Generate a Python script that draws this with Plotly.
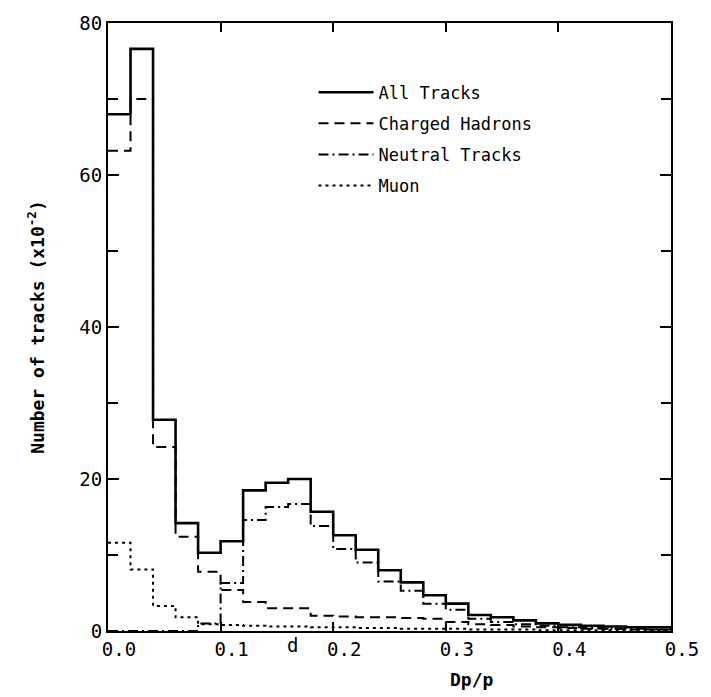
import plotly.graph_objects as go

# Bin edges of Dp/p (width 0.02)
bin_edges = [0.00, 0.02, 0.04, 0.06, 0.08, 0.10, 0.12, 0.14, 0.16, 0.18,
             0.20, 0.22, 0.24, 0.26, 0.28, 0.30, 0.32, 0.34, 0.36, 0.38,
             0.40, 0.42, 0.44, 0.46, 0.48, 0.50]

# Number of tracks (x10^-2) per bin
all_tracks = [68.0, 76.6, 27.8, 14.2, 10.3, 11.8, 18.5, 19.5, 20.0, 15.7,
              12.6, 10.7, 8.0, 6.4, 4.7, 3.6, 2.1, 1.8, 1.4, 1.0,
              0.8, 0.7, 0.6, 0.5, 0.5]
charged_hadrons = [63.2, 70.0, 24.2, 12.4, 7.8, 5.4, 3.8, 3.0, 3.0, 2.0,
                   1.9, 1.8, 1.8, 1.7, 1.6, 1.2, 0.9, 0.8, 0.6, 0.5,
                   0.4, 0.3, 0.3, 0.2, 0.2]
neutral_tracks = [0.0, 0.0, 0.0, 0.0, 1.0, 6.3, 14.6, 16.3, 16.7, 13.8,
                  10.8, 9.0, 6.5, 5.3, 3.6, 2.8, 1.6, 1.2, 0.9, 0.7,
                  0.5, 0.4, 0.3, 0.3, 0.2]
muon = [11.6, 8.1, 3.3, 1.8, 0.9, 0.8, 0.7, 0.6, 0.6, 0.5,
        0.5, 0.4, 0.4, 0.3, 0.3, 0.3, 0.2, 0.2, 0.2, 0.1,
        0.1, 0.1, 0.1, 0.1, 0.1]

x_ticks = [0.0, 0.1, 0.2, 0.3, 0.4, 0.5]
y_ticks = [0, 20, 40, 60, 80]

series = [
    ("All Tracks", all_tracks, dict(color="black", width=2.6, dash="solid")),
    ("Charged Hadrons", charged_hadrons, dict(color="black", width=2, dash="10px,6px")),
    ("Neutral Tracks", neutral_tracks, dict(color="black", width=2, dash="10px,4px,2px,4px")),
    ("Muon", muon, dict(color="black", width=2, dash="3px,4px")),
]

MONO = "DejaVu Sans Mono"

fig = go.Figure()
for i, (name, vals, line) in enumerate(series):
    fig.add_trace(go.Scatter(
        x=bin_edges,
        y=list(vals) + [vals[-1]],
        mode="lines",
        line_shape="hv",
        line=line,
        name=name,
        legendgroup=f"g{i}",
    ))

fig.add_annotation(
    x=0.69, y=-0.1, xref="paper", yref="paper",
    text="Dp/p", showarrow=False,
    font=dict(family=MONO, size=18, color="black", weight="bold"),
)
fig.add_annotation(
    x=0.164, y=-0.002, xref="x", yref="paper",
    text="d", showarrow=False, yanchor="top",
    font=dict(family=MONO, size=19, color="black"),
)

fig.update_layout(
    width=711, height=697,
    margin=dict(l=108, r=35, t=23, b=66),
    paper_bgcolor="white", plot_bgcolor="white",
    font=dict(family=MONO, color="black"),
    showlegend=True,
    legend=dict(
        x=0.365, y=0.915, xanchor="left", yanchor="top",
        bgcolor="rgba(0,0,0,0)", borderwidth=0,
        font=dict(family=MONO, size=17, color="black"),
        traceorder="grouped", tracegroupgap=6,
        itemwidth=55,
    ),
    xaxis=dict(
        range=[0, 0.5], tickvals=x_ticks, tickformat=".1f",
        showline=True, linecolor="black", linewidth=2, mirror="ticks",
        ticks="inside", ticklen=9, tickwidth=2, tickcolor="black",
        showgrid=False, zeroline=False,
        tickfont=dict(family=MONO, size=19, color="black"),
        ticklabelshift=11,
    ),
    yaxis=dict(
        range=[0, 80], tickvals=y_ticks,
        showline=True, linecolor="black", linewidth=2, mirror="ticks",
        ticks="inside", ticklen=11, tickwidth=2, tickcolor="black",
        showgrid=False, zeroline=False,
        tickfont=dict(family=MONO, size=19, color="black"),
        minor=dict(dtick=10, ticks="inside", ticklen=10, tickwidth=2, tickcolor="black", showgrid=False),
        title=dict(
            text="Number of tracks (x10<sup>-2</sup>)",
            font=dict(family=MONO, size=18, color="black", weight="bold"),
            standoff=30,
        ),
    ),
)

fig.write_html("out.html")
